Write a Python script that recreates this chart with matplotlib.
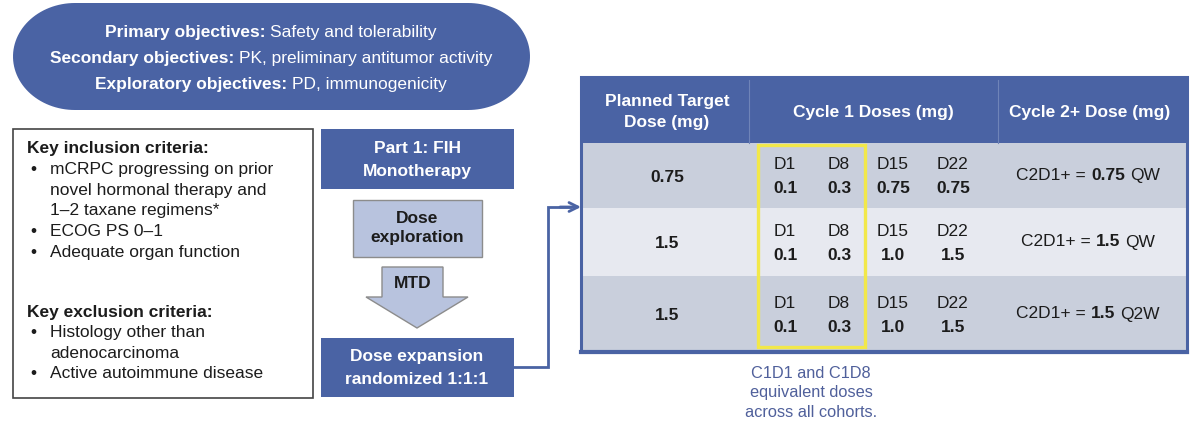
import matplotlib
matplotlib.use("Agg")
import numpy as np
import matplotlib.pyplot as plt
from matplotlib.patches import Rectangle, Polygon

plt.rcParams['font.family'] = ['Liberation Sans', 'DejaVu Sans']

# ---- content ----
objectives = [("Primary objectives:", "Safety and tolerability"),
              ("Secondary objectives:", "PK, preliminary antitumor activity"),
              ("Exploratory objectives:", "PD, immunogenicity")]
inclusion_title = "Key inclusion criteria:"
inclusion = [["mCRPC progressing on prior", "novel hormonal therapy and", "1\u20132 taxane regimens*"],
             ["ECOG PS 0\u20131"],
             ["Adequate organ function"]]
exclusion_title = "Key exclusion criteria:"
exclusion = [["Histology other than", "adenocarcinoma"],
             ["Active autoimmune disease"]]
flow_top = "Part 1: FIH\nMonotherapy"
flow_mid = "Dose\nexploration"
flow_arrow = "MTD"
flow_bottom = "Dose expansion\nrandomized 1:1:1"

headers = ["Planned Target\nDose (mg)", "Cycle 1 Doses (mg)", "Cycle 2+ Dose (mg)"]
target_dose = ["0.75", "1.5", "1.5"]
cycle1_days = ["D1", "D8", "D15", "D22"]
cycle1_doses = [["0.1", "0.3", "0.75", "0.75"],
                ["0.1", "0.3", "1.0", "1.5"],
                ["0.1", "0.3", "1.0", "1.5"]]
cycle2_dose = ["0.75", "1.5", "1.5"]
cycle2_freq = ["QW", "QW", "Q2W"]
note = "C1D1 and C1D8\nequivalent doses\nacross all cohorts."

BLUE = '#4a63a4'
LIGHT = '#b8c3de'
ROW_DARK = '#c9cfdc'
ROW_LIGHT = '#e7e9f0'
INK = '#1c1c1c'
FS = 12.5

fig = plt.figure(figsize=(12, 4.3), dpi=100)
ax = fig.add_axes([0, 0, 1, 1])
ax.set_xlim(0, 1200)
ax.set_ylim(430, 0)
ax.axis('off')
renderer = fig.canvas.get_renderer()


def width_of(s, weight, size):
    t = ax.text(0, 0, s, fontsize=size, fontweight=weight)
    w = t.get_window_extent(renderer).width
    t.remove()
    return w


def mixed(xc, y, parts, size=FS, color=INK):
    # parts: list of (text, weight), joined by single spaces
    sp = width_of("a a", 'normal', size) - width_of("aa", 'normal', size)
    ws = [width_of(s, w, size) for s, w in parts]
    x = xc - (sum(ws) + sp * (len(parts) - 1)) / 2
    for (s, w), wd in zip(parts, ws):
        ax.text(x, y, s, fontsize=size, fontweight=w, color=color,
                ha='left', va='center')
        x += wd + sp


# ---- objectives pill (true half-ellipse ends) ----
px0, px1, py0, py1 = 13, 530, 3, 110
ry = (py1 - py0) / 2
rx = 62
cy = py0 + ry
t = np.linspace(-np.pi / 2, np.pi / 2, 60)
right = np.column_stack([px1 - rx + rx * np.cos(t), cy + ry * np.sin(t)])
left = np.column_stack([px0 + rx - rx * np.cos(t), cy - ry * np.sin(t)])
ax.add_patch(Polygon(np.vstack([right, left]), closed=True, fc=BLUE, ec='none'))
for (b, r), y in zip(objectives, [32, 58, 84]):
    mixed(271, y, [(b, 'bold'), (r, 'normal')], size=FS, color='white')

# ---- criteria box ----
ax.add_patch(Rectangle((13, 129), 300, 269, fc='white', ec='#444444', lw=1.2))
step = 20.6


def criteria(title, items, y):
    ax.text(27, y, title, fontsize=FS, fontweight='bold', color=INK, va='center')
    y += step
    for item in items:
        ax.text(30, y, "\u2022", fontsize=FS, color=INK, va='center')
        for line in item:
            ax.text(50, y, line, fontsize=FS, color=INK, va='center')
            y += step
    return y


criteria(inclusion_title, inclusion, 149)
criteria(exclusion_title, exclusion, 312)

# ---- flow column ----
ax.add_patch(Rectangle((321, 129), 193, 60, fc=BLUE, ec='none'))
ax.text(417, 160, flow_top, fontsize=FS, fontweight='bold', color='white',
        ha='center', va='center', linespacing=1.6)
ax.add_patch(Rectangle((353, 200), 129, 57, fc=LIGHT, ec='#8c8c8c', lw=1))
ax.text(417, 228, flow_mid, fontsize=FS, fontweight='bold', color=INK,
        ha='center', va='center', linespacing=1.3)
ax.add_patch(Polygon([(382, 267), (443, 267), (443, 297), (468, 297),
                      (417, 328), (366, 297), (382, 297)],
                     closed=True, fc=LIGHT, ec='#8c8c8c', lw=1))
ax.text(413, 283, flow_arrow, fontsize=FS, fontweight='bold', color=INK,
        ha='center', va='center')
ax.add_patch(Rectangle((321, 338), 193, 59, fc=BLUE, ec='none'))
ax.text(417, 368, flow_bottom, fontsize=FS, fontweight='bold', color='white',
        ha='center', va='center', linespacing=1.6)

# connector to the table
ax.plot([514, 548, 548, 570], [367, 367, 207, 207], color=BLUE, lw=2,
        solid_joinstyle='miter')
ax.annotate("", xy=(581, 207), xytext=(560, 207),
            arrowprops=dict(arrowstyle='->', color=BLUE, lw=2,
                            mutation_scale=16, shrinkA=0, shrinkB=0))

# ---- dose table ----
tx0, tx1 = 581, 1187
col_div = [749, 998]
row_edges = [77, 143, 208, 276, 352]
ax.add_patch(Rectangle((tx0, row_edges[0]), tx1 - tx0, row_edges[1] - row_edges[0],
                       fc=BLUE, ec='none'))
for i in range(len(target_dose)):
    ax.add_patch(Rectangle((tx0, row_edges[i + 1]), tx1 - tx0,
                           row_edges[i + 2] - row_edges[i + 1],
                           fc=ROW_LIGHT if i % 2 else ROW_DARK, ec='none'))
for xd in col_div:
    ax.plot([xd, xd], [row_edges[0] + 3, row_edges[1]], color='#6f84b8', lw=0.8)
ax.add_patch(Rectangle((tx0, row_edges[0]), tx1 - tx0, row_edges[-1] - row_edges[0],
                       fc='none', ec=BLUE, lw=2.2))
ax.plot([tx0, tx1], [row_edges[-1], row_edges[-1]], color=BLUE, lw=3)

hx = [667, 873, 1090]
hy = (row_edges[0] + row_edges[1]) / 2 + 2
for x, h in zip(hx, headers):
    ax.text(x, hy, h, fontsize=FS, fontweight='bold', color='white',
            ha='center', va='center', linespacing=1.55)

day_x = [785, 839, 893, 953]
for i in range(len(target_dose)):
    yc = (row_edges[i + 1] + row_edges[i + 2]) / 2
    ax.text(667, yc + 2, target_dose[i], fontsize=FS, fontweight='bold',
            color=INK, ha='center', va='center')
    for x, d, v in zip(day_x, cycle1_days, cycle1_doses[i]):
        ax.text(x, yc - 11, d, fontsize=FS, color=INK, ha='center', va='center')
        ax.text(x, yc + 13, v, fontsize=FS, fontweight='bold', color=INK,
                ha='center', va='center')
    mixed(1088, yc, [("C2D1+ =", 'normal'), (cycle2_dose[i], 'bold'),
                     (cycle2_freq[i], 'normal')], size=FS, color=INK)

# yellow highlight around D1/D8
ax.add_patch(Rectangle((758, 145), 107, 202, fc='none', ec='#f2e84a', lw=2.4))

ax.text(811, 393, note, fontsize=11.8, color='#50609b', ha='center',
        va='center', linespacing=1.38)

fig.savefig('out.png', dpi=100)
